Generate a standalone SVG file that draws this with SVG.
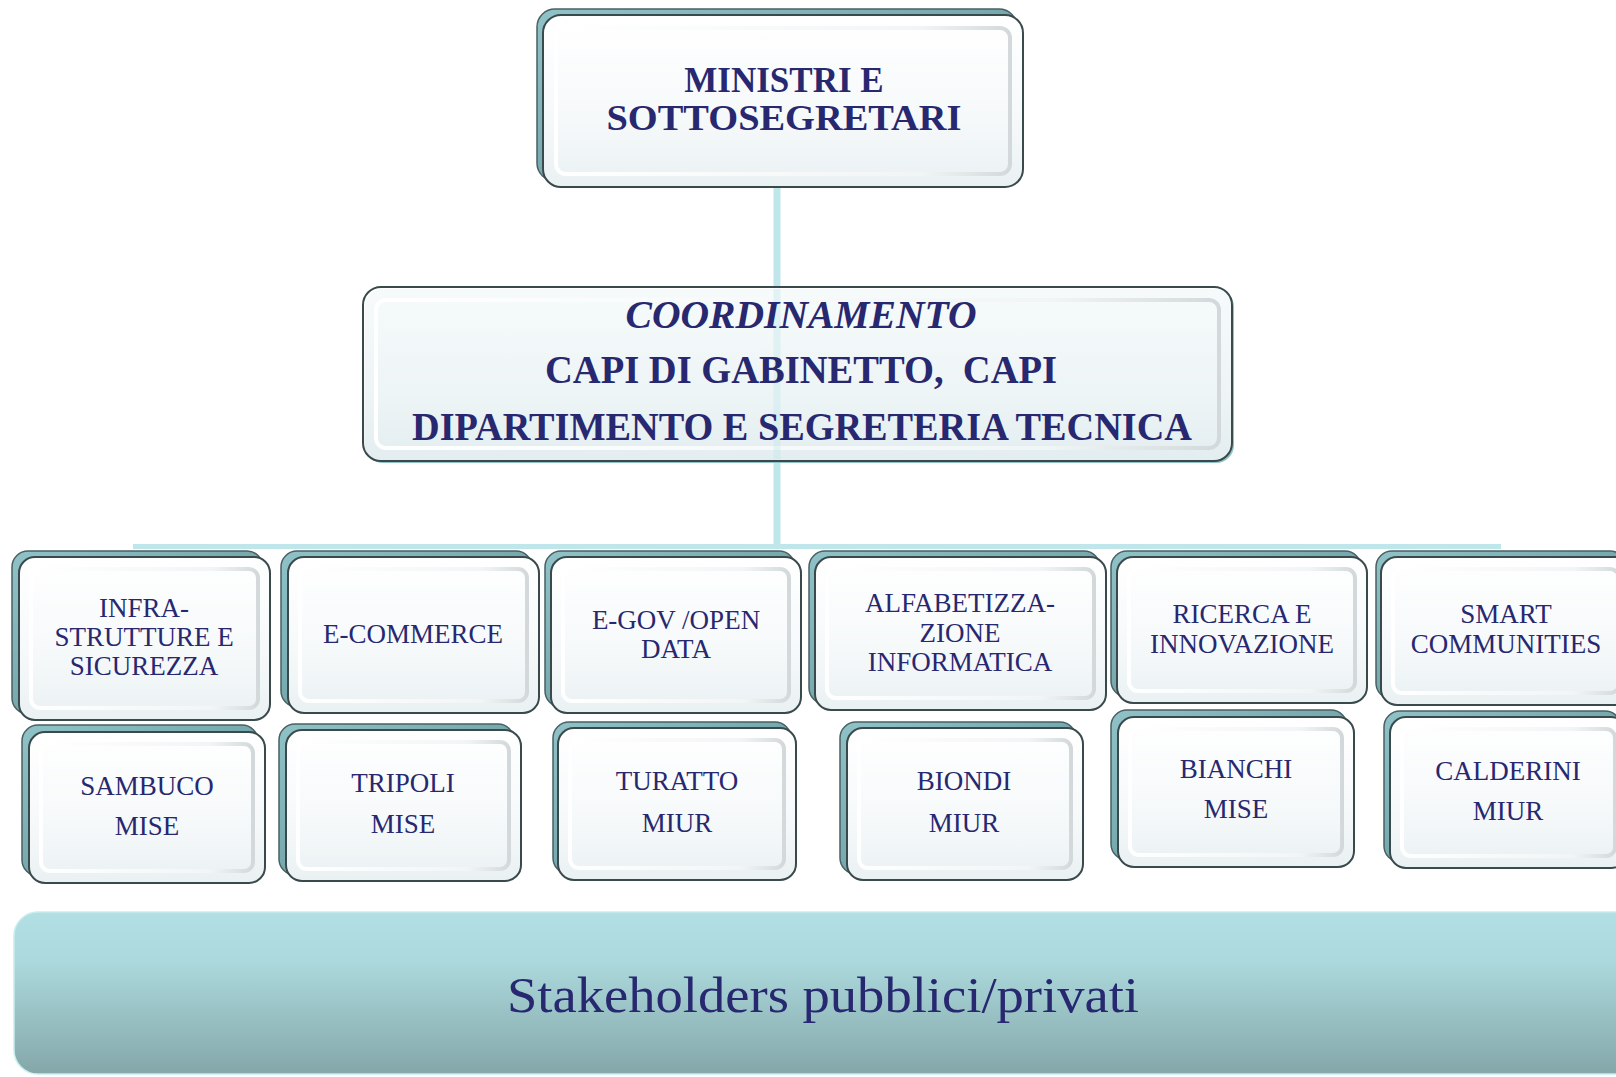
<svg xmlns="http://www.w3.org/2000/svg" width="1616" height="1077" viewBox="0 0 1616 1077">
<defs>
<linearGradient id="face" x1="0" y1="0" x2="0" y2="1">
<stop offset="0" stop-color="#ffffff"/>
<stop offset="0.6" stop-color="#f6f9fa"/>
<stop offset="1" stop-color="#eaf1f3"/>
</linearGradient>
<linearGradient id="bevel" x1="0" y1="0" x2="1" y2="0">
<stop offset="0" stop-color="#ffffff"/>
<stop offset="0.8" stop-color="#f2f5f6"/>
<stop offset="1" stop-color="#d3d9da"/>
</linearGradient>
<linearGradient id="teal" x1="0" y1="0" x2="1" y2="1">
<stop offset="0" stop-color="#8fc3c7"/>
<stop offset="1" stop-color="#5d8f93"/>
</linearGradient>
<linearGradient id="bar" x1="0" y1="0" x2="0" y2="1">
<stop offset="0" stop-color="#b1dfe3"/>
<stop offset="0.3" stop-color="#acd9dd"/>
<stop offset="1" stop-color="#84a7a9"/>
</linearGradient>
<style>
.sh{fill:url(#teal);stroke:#4a6063;stroke-width:1.5}
.bx{fill:url(#face);stroke:#3a4a4c;stroke-width:2}
.bv{fill:none;stroke:url(#bevel);stroke-width:4}
.t{font-family:"Liberation Serif","Times New Roman",serif;fill:#27286f;text-anchor:middle}
.big{font-size:35px;font-weight:bold}
.mid{font-size:39px;font-weight:bold}
.sm{font-size:27px}
.cn{stroke:#bfe6ea;fill:none}
</style>
</defs>
<rect x="0" y="0" width="1616" height="1077" fill="#ffffff"/>

<g id="connectors">
<line class="cn" x1="777" y1="187" x2="777" y2="546" stroke-width="7"/>
<line class="cn" x1="133" y1="546.5" x2="1501" y2="546.5" stroke-width="5"/>
</g>

<g id="n-ministri">
<rect class="sh" x="537" y="9" width="480" height="172" rx="18"/>
<rect class="bx" x="543" y="15" width="480" height="172" rx="18"/>
<rect class="bv" x="556" y="28" width="454" height="146" rx="10"/>
<text class="t big" x="784" y="92">MINISTRI E</text>
<text class="t big" x="784" y="130" textLength="355" lengthAdjust="spacingAndGlyphs">SOTTOSEGRETARI</text>
</g>

<g id="n-coordinamento">
<rect x="365" y="289" width="869" height="174" rx="18" fill="#8fc3c7"/>
<rect class="bx" x="363" y="287" width="869" height="174" rx="18" fill-opacity="0.92"/>
<rect class="bv" x="376" y="300" width="843" height="148" rx="10"/>
<line x1="777" y1="289" x2="777" y2="459" stroke="#bfe6ea" stroke-width="7" opacity="0.35"/>
<text class="t mid" x="801" y="328" font-style="italic" textLength="351" lengthAdjust="spacingAndGlyphs">COORDINAMENTO</text>
<text class="t mid" x="801" y="383" xml:space="preserve" textLength="512" lengthAdjust="spacingAndGlyphs">CAPI DI GABINETTO,  CAPI</text>
<text class="t mid" x="802" y="440" textLength="780" lengthAdjust="spacingAndGlyphs">DIPARTIMENTO E SEGRETERIA TECNICA</text>
</g>

<g id="n-infra">
<rect class="sh" x="12" y="551" width="251" height="163" rx="16"/>
<rect class="bx" x="19" y="557" width="251" height="163" rx="16"/>
<rect class="bv" x="31" y="569" width="227" height="139" rx="9"/>
<text class="t sm" x="144" y="617">INFRA-</text>
<text class="t sm" x="144" y="646">STRUTTURE E</text>
<text class="t sm" x="144" y="675">SICUREZZA</text>
</g>

<g id="n-ecommerce">
<rect class="sh" x="281" y="551" width="251" height="156" rx="16"/>
<rect class="bx" x="288" y="557" width="251" height="156" rx="16"/>
<rect class="bv" x="300" y="569" width="227" height="132" rx="9"/>
<text class="t sm" x="413" y="643">E-COMMERCE</text>
</g>

<g id="n-egov">
<rect class="sh" x="545" y="551" width="250" height="156" rx="16"/>
<rect class="bx" x="551" y="557" width="250" height="156" rx="16"/>
<rect class="bv" x="563" y="569" width="226" height="132" rx="9"/>
<text class="t sm" x="676" y="629" xml:space="preserve">E-GOV /OPEN</text>
<text class="t sm" x="676" y="658">DATA</text>
</g>

<g id="n-alfabetizzazione">
<rect class="sh" x="809" y="551" width="291" height="153" rx="16"/>
<rect class="bx" x="815" y="557" width="291" height="153" rx="16"/>
<rect class="bv" x="827" y="569" width="267" height="129" rx="9"/>
<text class="t sm" x="960" y="612">ALFABETIZZA-</text>
<text class="t sm" x="960" y="642">ZIONE</text>
<text class="t sm" x="960" y="671">INFORMATICA</text>
</g>

<g id="n-ricerca">
<rect class="sh" x="1111" y="551" width="250" height="146" rx="16"/>
<rect class="bx" x="1117" y="557" width="250" height="146" rx="16"/>
<rect class="bv" x="1129" y="569" width="226" height="122" rx="9"/>
<text class="t sm" x="1242" y="623">RICERCA E</text>
<text class="t sm" x="1242" y="653">INNOVAZIONE</text>
</g>

<g id="n-smart">
<rect class="sh" x="1376" y="551" width="250" height="148" rx="16"/>
<rect class="bx" x="1381" y="557" width="250" height="148" rx="16"/>
<rect class="bv" x="1393" y="569" width="226" height="124" rx="9"/>
<text class="t sm" x="1506" y="623">SMART</text>
<text class="t sm" x="1506" y="653">COMMUNITIES</text>
</g>

<g id="n-sambuco">
<rect class="sh" x="22" y="725" width="236" height="151" rx="16"/>
<rect class="bx" x="29" y="732" width="236" height="151" rx="16"/>
<rect class="bv" x="41" y="744" width="212" height="127" rx="9"/>
<text class="t sm" x="147" y="795">SAMBUCO</text>
<text class="t sm" x="147" y="835">MISE</text>
</g>

<g id="n-tripoli">
<rect class="sh" x="279" y="724" width="235" height="151" rx="16"/>
<rect class="bx" x="286" y="730" width="235" height="151" rx="16"/>
<rect class="bv" x="298" y="742" width="211" height="127" rx="9"/>
<text class="t sm" x="403" y="792">TRIPOLI</text>
<text class="t sm" x="403" y="833">MISE</text>
</g>

<g id="n-turatto">
<rect class="sh" x="553" y="722" width="238" height="152" rx="16"/>
<rect class="bx" x="558" y="728" width="238" height="152" rx="16"/>
<rect class="bv" x="570" y="740" width="214" height="128" rx="9"/>
<text class="t sm" x="677" y="790">TURATTO</text>
<text class="t sm" x="677" y="832">MIUR</text>
</g>

<g id="n-biondi">
<rect class="sh" x="840" y="722" width="236" height="152" rx="16"/>
<rect class="bx" x="847" y="728" width="236" height="152" rx="16"/>
<rect class="bv" x="859" y="740" width="212" height="128" rx="9"/>
<text class="t sm" x="964" y="790">BIONDI</text>
<text class="t sm" x="964" y="832">MIUR</text>
</g>

<g id="n-bianchi">
<rect class="sh" x="1111" y="710" width="236" height="150" rx="16"/>
<rect class="bx" x="1118" y="717" width="236" height="150" rx="16"/>
<rect class="bv" x="1130" y="729" width="212" height="126" rx="9"/>
<text class="t sm" x="1236" y="778">BIANCHI</text>
<text class="t sm" x="1236" y="818">MISE</text>
</g>

<g id="n-calderini">
<rect class="sh" x="1384" y="711" width="237" height="151" rx="16"/>
<rect class="bx" x="1390" y="717" width="237" height="151" rx="16"/>
<rect class="bv" x="1402" y="729" width="213" height="127" rx="9"/>
<text class="t sm" x="1508" y="780">CALDERINI</text>
<text class="t sm" x="1508" y="820">MIUR</text>
</g>

<g id="n-stakeholders">
<rect x="14" y="912" width="1640" height="162" rx="24" fill="url(#bar)" stroke="#c9ecef" stroke-width="1.5"/>
<text class="t" x="823" y="1012" font-size="50" textLength="632" lengthAdjust="spacingAndGlyphs">Stakeholders pubblici/privati</text>
</g>
</svg>
